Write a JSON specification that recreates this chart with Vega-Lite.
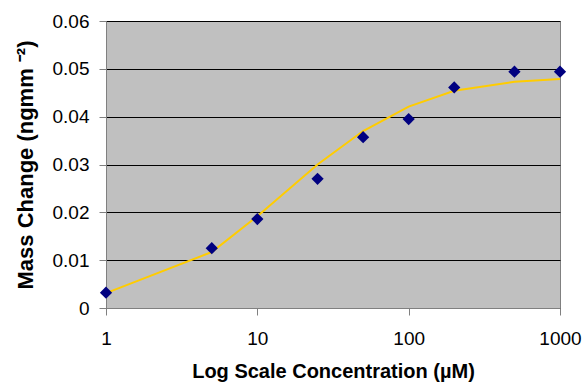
{
  "$schema": "https://vega.github.io/schema/vega-lite/v6.json",
  "autosize": {"type": "none"},
  "width": 454,
  "height": 287,
  "padding": {"left": 106, "top": 21, "right": 27, "bottom": 74},
  "background": "white",
  "data": {
    "values": [
      {"conc": 1, "mass": 0.0032, "fit": 0.0031},
      {"conc": 5, "mass": 0.0125, "fit": 0.0117},
      {"conc": 10, "mass": 0.0186, "fit": 0.0192},
      {"conc": 25, "mass": 0.0270, "fit": 0.0300},
      {"conc": 50, "mass": 0.0357, "fit": 0.0370},
      {"conc": 100, "mass": 0.0395, "fit": 0.0421},
      {"conc": 200, "mass": 0.0461, "fit": 0.0454},
      {"conc": 500, "mass": 0.0494, "fit": 0.0473},
      {"conc": 1000, "mass": 0.0494, "fit": 0.0479}
    ]
  },
  "encoding": {
    "x": {
      "field": "conc",
      "type": "quantitative",
      "scale": {"type": "log", "domain": [1, 1000], "nice": false},
      "axis": {
        "title": "Log Scale Concentration (µM)",
        "titleFontSize": 20,
        "values": [1, 10, 100, 1000],
        "format": "d",
        "grid": false,
        "labelPadding": 14,
        "titlePadding": 13,
        "labelFlush": false
      }
    }
  },
  "layer": [
    {
      "mark": {"type": "line", "color": "#FFCC00", "strokeWidth": 2},
      "encoding": {
        "y": {
          "field": "fit",
          "type": "quantitative",
          "scale": {"domain": [0, 0.06], "nice": false, "zero": true},
          "axis": {
            "title": "Mass Change (ngmm ⁻²)",
            "titleFontSize": 22,
            "values": [0, 0.01, 0.02, 0.03, 0.04, 0.05, 0.06],
            "format": "~g",
            "grid": true,
            "gridColor": "#000000",
            "gridOpacity": 1,
            "gridWidth": 1,
            "labelPadding": 10,
            "titlePadding": 15
          }
        }
      }
    },
    {
      "mark": {"type": "point", "shape": "diamond", "filled": true, "color": "#000080", "size": 150, "opacity": 1},
      "encoding": {
        "y": {"field": "mass", "type": "quantitative"}
      }
    }
  ],
  "config": {
    "font": "Liberation Sans",
    "view": {"fill": "#C0C0C0", "stroke": "#808080", "strokeWidth": 1},
    "axis": {
      "domainColor": "#808080",
      "domainWidth": 1,
      "tickColor": "#808080",
      "tickSize": 7,
      "tickWidth": 1,
      "labelFont": "Liberation Sans",
      "labelFontSize": 19,
      "labelColor": "#000000",
      "titleFont": "Liberation Sans",
      "titleFontWeight": "bold",
      "titleColor": "#000000"
    }
  }
}
